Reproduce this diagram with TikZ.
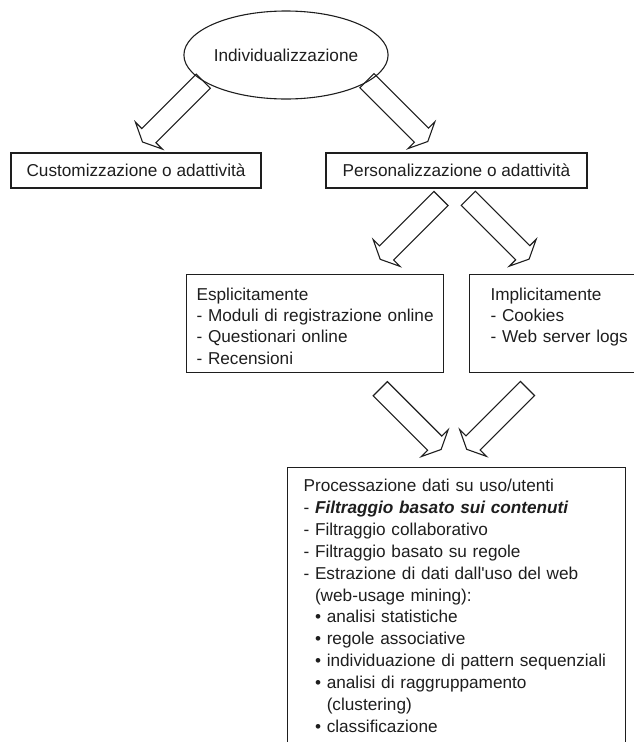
\documentclass[tikz,border=0pt]{standalone}
\usepackage{fontspec}
\setmainfont{Liberation Sans}
\usepackage{tikz}
\usetikzlibrary{shapes.geometric,calc}
\definecolor{line_dark}{RGB}{30,30,30}

% hollow block arrow from tail (#1) to tip (#2)
\newcommand{\blockarrow}[2]{%
  \draw[arrowline] let \p1=(#1), \p2=(#2), \n1={atan2(\y2-\y1,\x2-\x1)} in
    ($(\p1)+({\n1+90}:10pt)$)
    -- ($(\p2)+({\n1+180}:9pt)+({\n1+90}:10pt)$)
    -- ($(\p2)+({\n1+180}:9pt)+({\n1+90}:19pt)$)
    -- (\p2)
    -- ($(\p2)+({\n1+180}:9pt)+({\n1-90}:19pt)$)
    -- ($(\p2)+({\n1+180}:9pt)+({\n1-90}:10pt)$)
    -- ($(\p1)+({\n1-90}:10pt)$) -- cycle;}

\begin{document}
\begin{tikzpicture}[x=1pt,y=-1pt,line width=1.1pt]
    \tikzstyle{box}=[draw=line_dark, rectangle, inner sep=0pt, text=line_dark, font=\fontsize{17.2}{21.4}\selectfont]
    \tikzstyle{listbox}=[box, anchor=north west, align=left, text height=25.5pt, text depth=72.5pt]
    \tikzstyle{arrowline}=[draw=line_dark, line width=1.1pt, line join=miter]

    \useasboundingbox (0,0) rectangle (634,742);
    \clip (0,0) rectangle (634,742);

    \node[box, ellipse, minimum width=176pt, minimum height=88pt] (indiv) at (286,55) {Individualizzazione};
    \node[box, minimum width=250pt, minimum height=35pt] (custom) at (136,170.5) {Customizzazione o adattività};
    \node[box, minimum width=261pt, minimum height=35pt] (perso) at (456.5,170.5) {Personalizzazione o adattività};

    \node[listbox, inner xsep=10pt, text width=237pt] (espl) at (186,274)
      {Esplicitamente\\\mbox{- Moduli di registrazione online}\\- Questionari online\\- Recensioni};
    \node[listbox, inner xsep=21pt, text width=200pt] (impl) at (469,274)
      {Implicitamente\\- Cookies\\- Web server logs};

    \node[listbox, inner xsep=16pt, text width=306pt, text height=24pt, text depth=300pt,
          font=\fontsize{17.2}{21.9}\selectfont] (proc) at (287,467)
      {Processazione dati su uso/utenti\\
       - \textbf{\textit{Filtraggio basato sui contenuti}}\\
       - Filtraggio collaborativo\\
       - Filtraggio basato su regole\\
       - Estrazione di dati dall\textquotesingle uso del web\\
       \phantom{- }(web-usage mining):\\
       \phantom{- }• analisi statistiche\\
       \phantom{- }• regole associative\\
       \phantom{- }\mbox{• individuazione di pattern sequenziali}\\
       \phantom{- }• analisi di raggruppamento\\
       \phantom{- • }(clustering)\\
       \phantom{- }• classificazione};

    % arrow ends
    \coordinate (t1) at (203.3,81.2);  \coordinate (h1) at (142.5,142);
    \coordinate (t2) at (367,80.7);    \coordinate (h2) at (427.8,141.5);
    \coordinate (t3) at (441,198.5);   \coordinate (h3) at (380.2,259.3);
    \coordinate (t4) at (468.3,198.3); \coordinate (h4) at (529.1,259.1);
    \coordinate (t5) at (380.3,388.7); \coordinate (h5) at (441.1,449.5);
    \coordinate (t6) at (527.5,388.5); \coordinate (h6) at (466.7,449.3);

    \blockarrow{t1}{h1}
    \blockarrow{t2}{h2}
    \blockarrow{t3}{h3}
    \blockarrow{t4}{h4}
    \blockarrow{t5}{h5}
    \blockarrow{t6}{h6}
\end{tikzpicture}
\end{document}
